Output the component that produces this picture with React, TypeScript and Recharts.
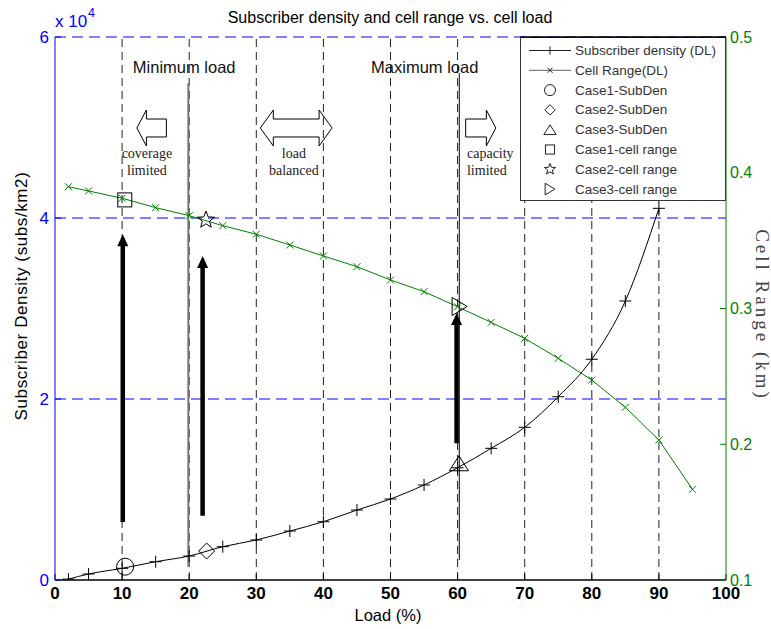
import {
  ComposedChart,
  Line,
  Scatter,
  XAxis,
  YAxis,
  ReferenceLine,
  ReferenceArea,
  ReferenceDot,
} from 'recharts';

const W = 771;
const H = 629;
const SANS = '"Liberation Sans", Arial, Helvetica, sans-serif';
const SERIF = '"Liberation Serif", "Times New Roman", serif';
const BLUE = '#0000ff';
const GREEN = '#008000';

// subscriber density (DL), left axis, subs/km2
const densityLoads = [2, 5, 10, 15, 20, 25, 30, 35, 40, 45, 50, 55, 60, 65, 70, 75, 80, 85, 90];
const subscriberDensity = [
  100, 660, 1290, 2020, 2650, 3680, 4420, 5410, 6440, 7730, 8950, 10500, 12400, 14550, 16870,
  20250, 24390, 30830, 41070,
];

// cell range (DL), right axis, km
const rangeLoads = [2, 5, 10, 15, 20, 25, 30, 35, 40, 45, 50, 55, 60, 65, 70, 75, 80, 85, 90, 95];
const cellRange = [
  0.3897, 0.3866, 0.3812, 0.3743, 0.3684, 0.361, 0.3547, 0.3468, 0.3387, 0.3308, 0.321, 0.3124,
  0.3013, 0.2898, 0.278, 0.2633, 0.2473, 0.2272, 0.2031, 0.1668,
];

// case markers
const caseNames = ['Case1', 'Case2', 'Case3'];
const subDenCaseLoads = [10.45, 22.6, 60.2];
const subDenCaseValues = [1470, 3200, 12900];
const rangeCaseLoads = [10.4, 22.5, 60.3];
const rangeCaseValues = [0.38, 0.3652, 0.3015];

// axes
const xTicks = [0, 10, 20, 30, 40, 50, 60, 70, 80, 90, 100];
const leftTicks = [0, 20000, 40000, 60000];
const rightTicks = [0.1, 0.2, 0.3, 0.4, 0.5];
const gridLoads = [10, 20, 30, 40, 50, 60, 70, 80, 90];
const gridDensity = [20000, 40000, 60000];

// annotations (load %, subs/km2)
const arrowLoads = [10.1, 22.0, 59.85];
const arrowFrom = [6400, 7100, 15100];
const arrowTo = [38200, 35800, 29500];
const markLoads = [19.87, 60.25];
const markFrom = [1470, 2210];
const markTo = [54900, 56020];
const headingTexts = ['Minimum load', 'Maximum load'];
const headingLoads = [19.25, 55.1];
const headingLevel = 56000;
const noteTexts = [
  ['coverage', 'limited'],
  ['load', 'balanced'],
  ['capacity', 'limited'],
];
const noteLoads = [13.7, 35.6, 61.4];
const noteLevels = [46630, 44750];
const blockFrom = [12.2, 30.6, 61.2];
const blockTo = [16.6, 41.3, 65.7];
const blockDirs = ['left', 'both', 'right'];
const blockLow = 47960;
const blockHigh = 51930;

type Kind = 'circle' | 'diamond' | 'triangle' | 'square' | 'star' | 'tright' | 'plus' | 'cross';

function Marker({ kind, cx, cy, s = 1, color = '#000' }: { kind: Kind; cx: number; cy: number; s?: number; color?: string }) {
  const common = { fill: 'none', stroke: color, strokeWidth: 1 };
  switch (kind) {
    case 'circle':
      return <circle cx={cx} cy={cy} r={8.5 * s} {...common} />;
    case 'diamond': {
      const d = 8 * s;
      return <polygon points={`${cx},${cy - d} ${cx + d},${cy} ${cx},${cy + d} ${cx - d},${cy}`} {...common} />;
    }
    case 'triangle': {
      const w = 9.5 * s;
      const h = 7.5 * s;
      return <polygon points={`${cx},${cy - h} ${cx + w},${cy + h} ${cx - w},${cy + h}`} {...common} />;
    }
    case 'square': {
      const d = 7 * s;
      return <rect x={cx - d} y={cy - d} width={2 * d} height={2 * d} {...common} />;
    }
    case 'tright': {
      const w = 7.5 * s;
      const h = 9 * s;
      return <polygon points={`${cx - w},${cy - h} ${cx + w},${cy} ${cx - w},${cy + h}`} {...common} />;
    }
    case 'star': {
      const pts: string[] = [];
      for (let i = 0; i < 10; i++) {
        const r = (i % 2 === 0 ? 9 : 3.8) * s;
        const a = -Math.PI / 2 + (i * Math.PI) / 5;
        pts.push(`${cx + r * Math.cos(a)},${cy + r * Math.sin(a)}`);
      }
      return <polygon points={pts.join(' ')} {...common} />;
    }
    case 'plus': {
      const d = 6 * s;
      return (
        <g stroke={color} strokeWidth={1}>
          <line x1={cx - d} y1={cy} x2={cx + d} y2={cy} />
          <line x1={cx} y1={cy - d} x2={cx} y2={cy + d} />
        </g>
      );
    }
    default: {
      const d = 3.5 * s;
      return (
        <g stroke={color} strokeWidth={1}>
          <line x1={cx - d} y1={cy - d} x2={cx + d} y2={cy + d} />
          <line x1={cx - d} y1={cy + d} x2={cx + d} y2={cy - d} />
        </g>
      );
    }
  }
}

const subDenKinds: Kind[] = ['circle', 'diamond', 'triangle'];
const rangeKinds: Kind[] = ['square', 'star', 'tright'];

function UpArrow(p: any) {
  const x = p.x1;
  const bottom = Math.max(p.y1, p.y2);
  const top = Math.min(p.y1, p.y2);
  return (
    <g>
      <line x1={x} y1={bottom} x2={x} y2={top + 10} stroke="#000" strokeWidth={4.5} />
      <polygon points={`${x - 5.5},${top + 12} ${x},${top} ${x + 5.5},${top + 12}`} fill="#000" />
    </g>
  );
}

function blockArrow(dir: string) {
  return (p: any) => {
    const x = p.x;
    const y = Math.min(p.y, p.y + p.height);
    const w = Math.abs(p.width);
    const h = Math.abs(p.height);
    const hl = dir === 'both' ? 13 : 9.5;
    const ins = h * 0.25;
    const cy = y + h / 2;
    let pts: number[][];
    if (dir === 'left') {
      pts = [[x, cy], [x + hl, y], [x + hl, y + ins], [x + w, y + ins], [x + w, y + h - ins], [x + hl, y + h - ins], [x + hl, y + h]];
    } else if (dir === 'right') {
      pts = [[x + w, cy], [x + w - hl, y], [x + w - hl, y + ins], [x, y + ins], [x, y + h - ins], [x + w - hl, y + h - ins], [x + w - hl, y + h]];
    } else {
      pts = [
        [x, cy], [x + hl, y], [x + hl, y + ins], [x + w - hl, y + ins], [x + w - hl, y], [x + w, cy],
        [x + w - hl, y + h], [x + w - hl, y + h - ins], [x + hl, y + h - ins], [x + hl, y + h],
      ];
    }
    return <polygon points={pts.map((q) => q.join(',')).join(' ')} fill="#fff" stroke="#000" strokeWidth={1} />;
  };
}

const legendRows: { label: string; kind: Kind; line?: string }[] = [
  { label: 'Subscriber density (DL)', kind: 'plus', line: '#222' },
  { label: 'Cell Range(DL)', kind: 'cross', line: '#666' },
  { label: 'Case1-SubDen', kind: 'circle' },
  { label: 'Case2-SubDen', kind: 'diamond' },
  { label: 'Case3-SubDen', kind: 'triangle' },
  { label: 'Case1-cell range', kind: 'square' },
  { label: 'Case2-cell range', kind: 'star' },
  { label: 'Case3-cell range', kind: 'tright' },
];

export default function App() {
  const densityData = densityLoads.map((load, i) => ({ load, value: subscriberDensity[i] }));
  const rangeData = rangeLoads.map((load, i) => ({ load, value: cellRange[i] }));

  return (
    <div style={{ position: 'absolute', left: 0, top: 0, width: W, height: H, background: '#fff', fontFamily: SANS }}>
      <ComposedChart width={W} height={H} margin={{ top: 37, right: 0, bottom: 0, left: 0 }} style={{ fontFamily: SANS }}>
        <XAxis
          type="number"
          dataKey="load"
          domain={[0, 100]}
          ticks={xTicks}
          allowDataOverflow
          height={49}
          axisLine={{ stroke: '#000', strokeWidth: 1.5 }}
          tickLine={{ stroke: '#000' }}
          tickSize={-6}
          tickMargin={13}
          tick={{ fill: '#000', fontSize: 17, fontWeight: 'bold' }}
        />
        <YAxis
          yAxisId="left"
          domain={[0, 60000]}
          ticks={leftTicks}
          allowDataOverflow
          width={55}
          tickFormatter={(v: number) => String(v / 10000)}
          axisLine={{ stroke: BLUE }}
          tickLine={{ stroke: BLUE }}
          tickSize={-6}
          tickMargin={12}
          tick={{ fill: BLUE, fontSize: 17 }}
        />
        <YAxis
          yAxisId="right"
          orientation="right"
          domain={[0.1, 0.5]}
          ticks={rightTicks}
          allowDataOverflow
          width={45}
          tickFormatter={(v: number) => v.toFixed(1)}
          axisLine={{ stroke: GREEN }}
          tickLine={{ stroke: GREEN }}
          tickSize={-6}
          tickMargin={10}
          tick={{ fill: GREEN, fontSize: 16 }}
        />

        {gridLoads.map((x) => (
          <ReferenceLine key={`gx${x}`} yAxisId="left" x={x} stroke="#222" strokeDasharray="8 5" />
        ))}
        {gridDensity.map((y) => (
          <ReferenceLine key={`gy${y}`} yAxisId="left" y={y} stroke={BLUE} strokeDasharray="11 6" />
        ))}

        {markLoads.map((x, i) => (
          <ReferenceLine
            key={`m${i}`}
            yAxisId="left"
            segment={[{ x, y: markFrom[i] }, { x, y: markTo[i] }]}
            stroke={i === 0 ? '#777' : '#000'}
            strokeWidth={i === 0 ? 2 : 1}
          />
        ))}

        {arrowLoads.map((x, i) => (
          <ReferenceLine
            key={`a${i}`}
            yAxisId="left"
            segment={[{ x, y: arrowFrom[i] }, { x, y: arrowTo[i] }]}
            shape={(p: any) => <UpArrow {...p} />}
          />
        ))}

        {blockFrom.map((x1, i) => (
          <ReferenceArea
            key={`b${i}`}
            yAxisId="left"
            x1={x1}
            x2={blockTo[i]}
            y1={blockLow}
            y2={blockHigh}
            shape={blockArrow(blockDirs[i])}
          />
        ))}

        {headingTexts.map((t, i) => (
          <ReferenceDot
            key={`h${i}`}
            yAxisId="left"
            x={headingLoads[i]}
            y={headingLevel}
            r={0}
            shape={(p: any) => (
              <text x={p.cx} y={p.cy} textAnchor="middle" fontSize={16.5} fill="#111" fontFamily={SANS}>
                {t}
              </text>
            )}
          />
        ))}

        {noteTexts.map((lines, i) =>
          lines.map((t, j) => (
            <ReferenceDot
              key={`n${i}${j}`}
              yAxisId="left"
              x={noteLoads[i]}
              y={noteLevels[j]}
              r={0}
              shape={(p: any) => (
                <text
                  x={p.cx}
                  y={p.cy}
                  textAnchor={i === 2 ? 'start' : 'middle'}
                  fontSize={14}
                  fill="#222"
                  fontFamily={SERIF}
                >
                  {t}
                </text>
              )}
            />
          ))
        )}

        <Line
          yAxisId="left"
          data={densityData}
          dataKey="value"
          type="monotone"
          stroke="#000"
          strokeWidth={1}
          dot={(p: any) => <Marker key={`pd${p.index}`} kind="plus" cx={p.cx} cy={p.cy} />}
          activeDot={false}
          isAnimationActive={false}
        />
        <Line
          yAxisId="right"
          data={rangeData}
          dataKey="value"
          type="linear"
          stroke={GREEN}
          strokeWidth={1}
          dot={(p: any) => <Marker key={`rd${p.index}`} kind="cross" cx={p.cx} cy={p.cy} color={GREEN} />}
          activeDot={false}
          isAnimationActive={false}
        />

        {caseNames.map((name, i) => (
          <Scatter
            key={`sd${name}`}
            name={`${name}-SubDen`}
            yAxisId="left"
            data={[{ load: subDenCaseLoads[i], value: subDenCaseValues[i] }]}
            dataKey="value"
            shape={(p: any) => <Marker kind={subDenKinds[i]} cx={p.cx} cy={p.cy} />}
            isAnimationActive={false}
          />
        ))}
        {caseNames.map((name, i) => (
          <Scatter
            key={`cr${name}`}
            name={`${name}-cell range`}
            yAxisId="right"
            data={[{ load: rangeCaseLoads[i], value: rangeCaseValues[i] }]}
            dataKey="value"
            shape={(p: any) => <Marker kind={rangeKinds[i]} cx={p.cx} cy={p.cy} />}
            isAnimationActive={false}
          />
        ))}
      </ComposedChart>

      <svg width={W} height={H} style={{ position: 'absolute', left: 0, top: 0, pointerEvents: 'none' }}>
        <text x={390} y={23} textAnchor="middle" fontSize={16} fill="#000" fontFamily={SANS}>
          Subscriber density and cell range vs. cell load
        </text>
        <text x={55} y={27} fontSize={17} fill={BLUE} fontFamily={SANS}>
          x 10
        </text>
        <text x={88} y={17} fontSize={12.5} fill={BLUE} fontFamily={SANS}>
          4
        </text>
        <text
          transform="translate(21,296) rotate(-90)"
          textAnchor="middle"
          dominantBaseline="central"
          fontSize={17}
          letterSpacing={0.6}
          fill="#000"
          fontFamily={SANS}
        >
          Subscriber Density (subs/km2)
        </text>
        <text
          transform="translate(762,315) rotate(90)"
          textAnchor="middle"
          dominantBaseline="central"
          fontSize={19}
          letterSpacing={3}
          fill="#444"
          fontFamily={SERIF}
        >
          Cell Range (km)
        </text>
        <text x={388} y={621} textAnchor="middle" fontSize={16.5} fill="#000" fontFamily={SANS}>
          Load (%)
        </text>

        <rect x={520.5} y={37.5} width={205} height={163} fill="#fff" stroke="#333" strokeWidth={1} />
        <line x1={520} y1={37} x2={726} y2={37} stroke="#000" strokeWidth={1.5} />
        {legendRows.map((row, i) => {
          const y = 50.5 + i * 19.8;
          return (
            <g key={row.label}>
              {row.line && <line x1={529} y1={y} x2={571} y2={y} stroke={row.line} strokeWidth={1} />}
              <Marker kind={row.kind} cx={550} cy={y} s={row.line ? 0.7 : 0.65} color="#222" />
              <text x={575} y={y} dominantBaseline="central" fontSize={13.5} fill="#333" fontFamily={SANS}>
                {row.label}
              </text>
            </g>
          );
        })}
      </svg>
    </div>
  );
}
